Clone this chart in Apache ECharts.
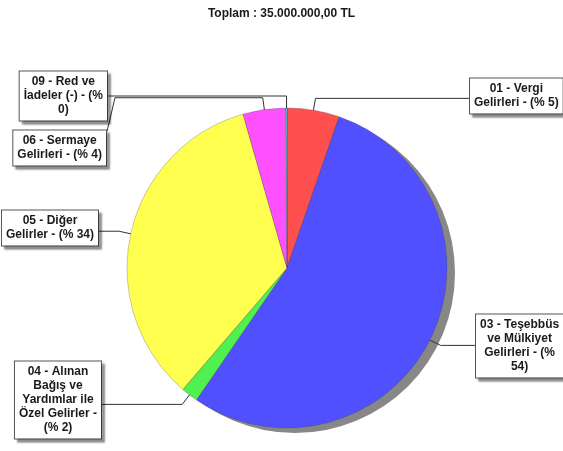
<!DOCTYPE html>
<html><head><meta charset="utf-8">
<script src="https://cdn.jsdelivr.net/npm/echarts@6/dist/echarts.min.js"></script>
<style>html,body{margin:0;padding:0;background:#fff}#c{width:563px;height:451px}</style>
</head><body><div id="c"></div>
<script>
const categories = [
  '01 - Vergi Gelirleri',
  '03 - Teşebbüs ve Mülkiyet Gelirleri',
  '04 - Alınan Bağış ve Yardımlar ile Özel Gelirler',
  '05 - Diğer Gelirler',
  '06 - Sermaye Gelirleri',
  '09 - Red ve İadeler (-)'
];
const values = [1850000, 19000000, 600000, 12000000, 1520000, 30000];
const colors = ['#ff5050', '#5050ff', '#50f050', '#ffff50', '#ff50ff', '#50ffff'];

const total = values.reduce((a, b) => a + b, 0);
function fmtTL(v) {
  const parts = v.toFixed(2).split('.');
  const intPart = parts[0].replace(/\B(?=(\d{3})+(?!\d))/g, '.');
  return intPart + ',' + parts[1];
}

const FONT_FAMILY = '"Liberation Sans", Arial, sans-serif';
const FONT_SIZE = 12;
const measureCtx = document.createElement('canvas').getContext('2d');
measureCtx.font = 'bold ' + FONT_SIZE + 'px ' + FONT_FAMILY;
function wrapText(str, maxW) {
  const words = str.split(' ');
  const lines = [];
  let cur = '';
  words.forEach(w => {
    const test = cur ? cur + ' ' + w : w;
    if (cur && measureCtx.measureText(test).width > maxW) { lines.push(cur); cur = w; }
    else cur = test;
  });
  if (cur) lines.push(cur);
  return lines.join('\n');
}

const C = [287, 268];
const R = 160;
// label box placement: side of the pie, box edge near the pie (x), box center (y)
const labelPlacement = [
  { side: 'right', edge: 469, cy: 96 },
  { side: 'right', edge: 475, cy: 346 },
  { side: 'left', edge: 102, cy: 400 },
  { side: 'left', edge: 99, cy: 228 },
  { side: 'left', edge: 107, cy: 148 },
  { side: 'left', edge: 108, cy: 96 }
];

const chart = echarts.init(document.getElementById('c'), null, { renderer: 'canvas' });
chart.setOption({
  animation: false,
  backgroundColor: '#fff',
  title: {
    text: 'Toplam : ' + fmtTL(total) + ' TL',
    left: 'center',
    top: 3,
    textStyle: { fontFamily: FONT_FAMILY, fontSize: 12, fontWeight: 'bold', color: '#1a1a1a' }
  },
  series: [
    {
      type: 'pie',
      silent: true,
      z: 1,
      center: [C[0] + 8, C[1] + 5],
      radius: R,
      startAngle: 90,
      label: { show: false },
      labelLine: { show: false },
      itemStyle: { color: '#878787' },
      data: [{ value: total, name: 'shadow' }]
    },
    {
      type: 'pie',
      z: 2,
      center: C,
      radius: R,
      startAngle: 90,
      clockwise: true,
      avoidLabelOverlap: false,
      itemStyle: { borderColor: 'rgba(60,60,60,0.45)', borderWidth: 0.6 },
      label: {
        show: true,
        position: 'outside',
        fontFamily: FONT_FAMILY,
        fontSize: FONT_SIZE,
        fontWeight: 'bold',
        color: '#1a1a1a',
        lineHeight: 14,
        align: 'center',
        backgroundColor: '#fff',
        borderColor: '#555',
        borderWidth: 1,
        padding: [4, 4, 3, 4],
        shadowColor: 'rgba(0,0,0,0.35)',
        shadowBlur: 2,
        shadowOffsetX: 3,
        shadowOffsetY: 3,
        formatter: p => wrapText(p.name + ' - (% ' + Math.round(p.percent) + ')', 89)
      },
      labelLine: { show: true, length: 10, length2: 10, lineStyle: { color: '#333', width: 1 } },
      labelLayout: function (params) {
        const pl = labelPlacement[params.dataIndex];
        const p0 = params.labelLinePoints ? params.labelLinePoints[0] : [C[0], C[1] - R];
        let dx = p0[0] - C[0], dy = p0[1] - C[1];
        const d = Math.hypot(dx, dy) || 1;
        dx /= d; dy /= d;
        const start = [C[0] + dx * R * 0.92, C[1] + dy * R * 0.92];
        const bend = [C[0] + dx * R * 1.075, C[1] + dy * R * 1.075];
        const w = params.labelRect.width, h = params.labelRect.height;
        const top = pl.cy - h / 2, bot = pl.cy + h / 2;
        const pts = [start, bend];
        if (bend[1] >= top && bend[1] <= bot) {
          pts.push([pl.edge, bend[1]]);
        } else {
          const off = pl.side === 'left' ? 8 : -8;
          pts.push([pl.edge + off, bend[1]]);
          pts.push([pl.edge, Math.max(top + 2, Math.min(bot - 2, bend[1]))]);
        }
        const x = pl.side === 'left' ? pl.edge - w / 2 : pl.edge + w / 2;
        return { x: x, y: pl.cy, align: 'center', verticalAlign: 'middle', labelLinePoints: pts };
      },
      data: categories.map((n, i) => ({ name: n, value: values[i], itemStyle: { color: colors[i] } }))
    }
  ]
});
</script>
</body></html>
